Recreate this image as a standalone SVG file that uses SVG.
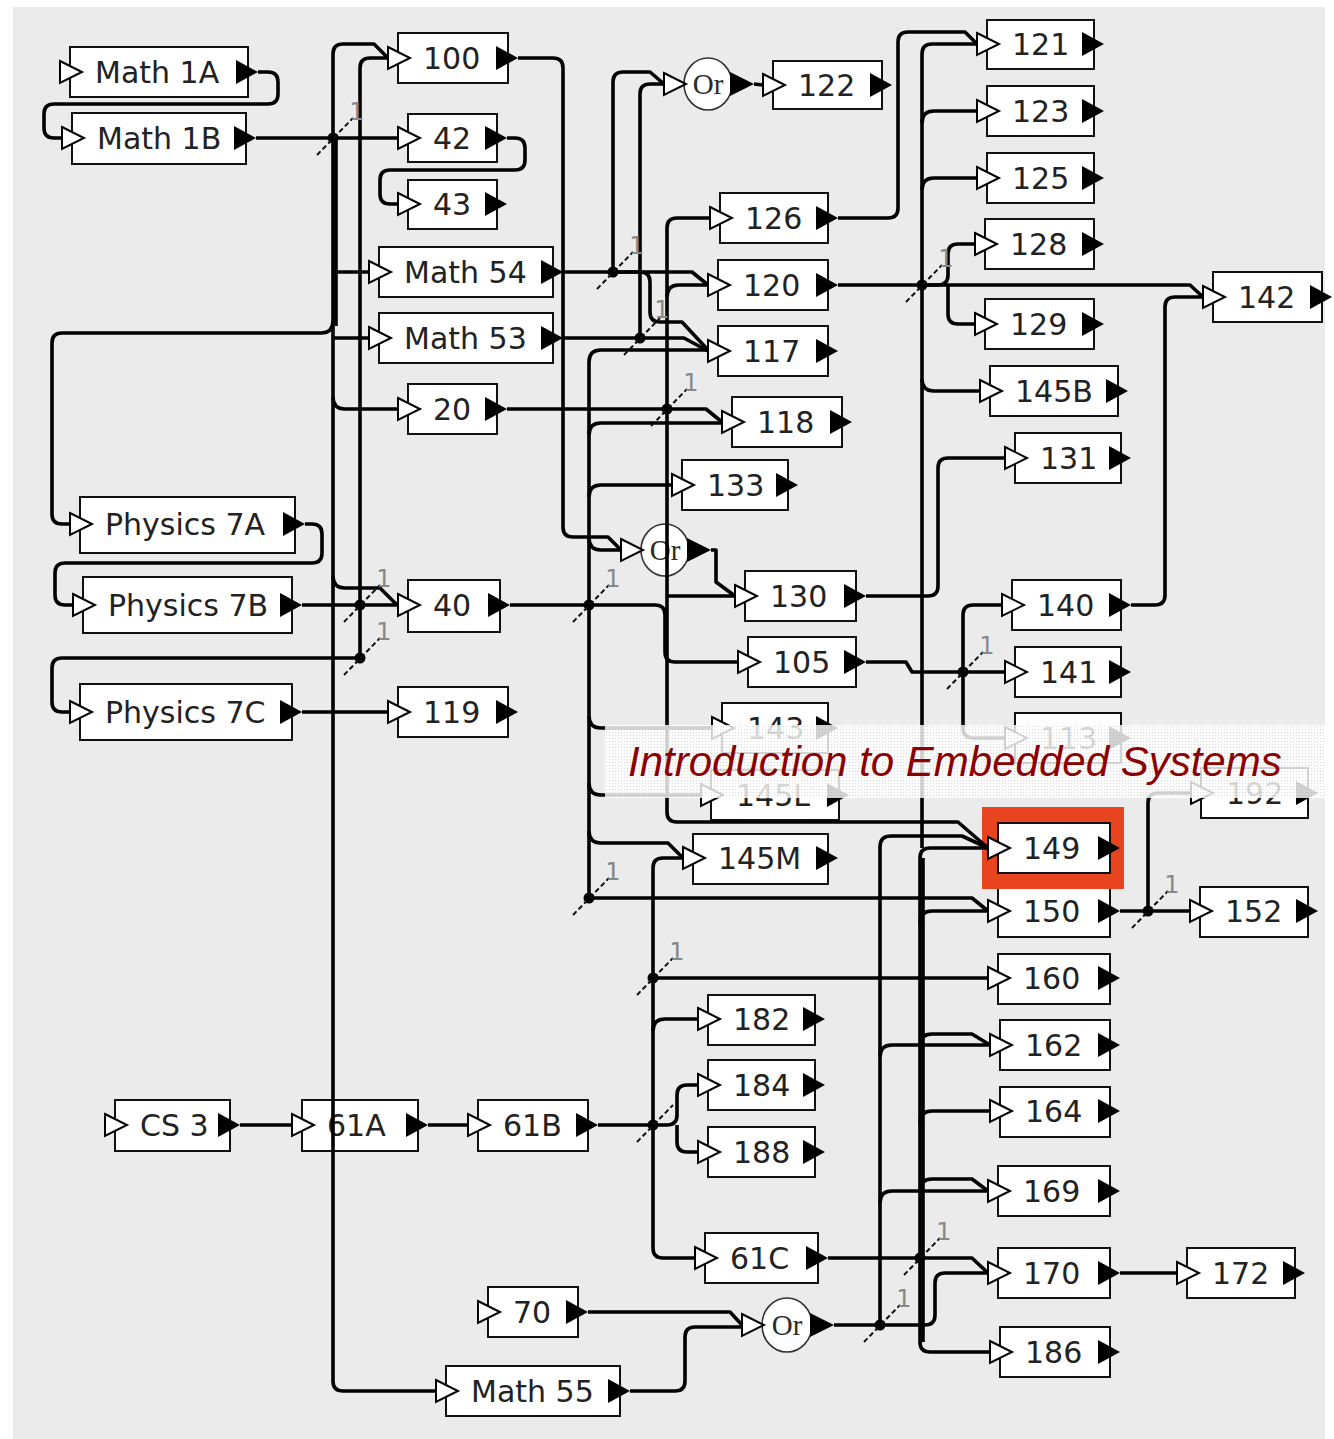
<svg xmlns="http://www.w3.org/2000/svg" width="1334" height="1439" viewBox="0 0 1334 1439">
<defs>
<style>
.box{fill:#fff;stroke:#111;stroke-width:2}
.lbl{font-family:"DejaVu Sans",sans-serif;font-size:30px;fill:#222}
.orl{font-family:"Liberation Serif",serif;font-size:29px;fill:#2b2b2b;text-anchor:middle}
.orc{fill:#fff;stroke:#333;stroke-width:1.6}
.in{fill:#fff;stroke:#000;stroke-width:2;stroke-linejoin:miter}
.out{fill:#000}
.w{fill:none;stroke:#000;stroke-width:3.6;stroke-linejoin:round;stroke-linecap:butt}
.jd{fill:#000}
.sl{stroke:#111;stroke-width:2;stroke-dasharray:5 3;fill:none}
.one{font-family:"DejaVu Sans",sans-serif;font-size:24px;fill:#888;text-anchor:middle}
</style>
<pattern id="dither" width="3" height="3" patternUnits="userSpaceOnUse"><rect x="0" y="0" width="1" height="1" fill="#999" opacity="0.35"/></pattern>
</defs>
<rect x="0" y="0" width="1334" height="1439" fill="#fff"/>
<rect x="13" y="7" width="1312" height="1432" fill="#ebebeb"/>

<g id="nodes">
<g id="n-math1a"><rect class="box" x="70" y="47" width="178" height="50"/><polygon class="in" points="60,61 82,72 60,83"/><polygon class="out" points="236,60 258,72 236,84"/><text class="lbl" x="95" y="83">Math 1A</text></g>
<g id="n-math1b"><rect class="box" x="72" y="113" width="174" height="51"/><polygon class="in" points="62,127 84,138 62,149"/><polygon class="out" points="234,126 256,138 234,150"/><text class="lbl" x="97" y="149">Math 1B</text></g>
<g id="n-100"><rect class="box" x="398" y="33" width="110" height="50"/><polygon class="in" points="388,47 410,58 388,69"/><polygon class="out" points="496,46 518,58 496,70"/><text class="lbl" x="423" y="69">100</text></g>
<g id="n-42"><rect class="box" x="408" y="114" width="89" height="48"/><polygon class="in" points="398,127 420,138 398,149"/><polygon class="out" points="485,126 507,138 485,150"/><text class="lbl" x="433" y="149">42</text></g>
<g id="n-43"><rect class="box" x="408" y="180" width="89" height="49"/><polygon class="in" points="398,193 420,204 398,215"/><polygon class="out" points="485,192 507,204 485,216"/><text class="lbl" x="433" y="215">43</text></g>
<g id="n-math54"><rect class="box" x="379" y="247" width="174" height="50"/><polygon class="in" points="369,261 391,272 369,283"/><polygon class="out" points="541,260 563,272 541,284"/><text class="lbl" x="404" y="283">Math 54</text></g>
<g id="n-math53"><rect class="box" x="379" y="313" width="174" height="50"/><polygon class="in" points="369,327 391,338 369,349"/><polygon class="out" points="541,326 563,338 541,350"/><text class="lbl" x="404" y="349">Math 53</text></g>
<g id="n-20"><rect class="box" x="408" y="384" width="89" height="50"/><polygon class="in" points="398,398 420,409 398,420"/><polygon class="out" points="485,397 507,409 485,421"/><text class="lbl" x="433" y="420">20</text></g>
<g id="n-or1"><ellipse class="orc" cx="708" cy="84" rx="24" ry="26"/><polygon class="in" points="664,73 686,84 664,95"/><polygon class="out" points="730,72 754,84 730,96"/><text class="orl" x="708" y="94">Or</text></g>
<g id="n-122"><rect class="box" x="773" y="61" width="109" height="48"/><polygon class="in" points="763,74 785,85 763,96"/><polygon class="out" points="870,73 892,85 870,97"/><text class="lbl" x="798" y="96">122</text></g>
<g id="n-121"><rect class="box" x="987" y="20" width="107" height="49"/><polygon class="in" points="977,33 999,44 977,55"/><polygon class="out" points="1082,32 1104,44 1082,56"/><text class="lbl" x="1012" y="55">121</text></g>
<g id="n-123"><rect class="box" x="987" y="86" width="107" height="50"/><polygon class="in" points="977,100 999,111 977,122"/><polygon class="out" points="1082,99 1104,111 1082,123"/><text class="lbl" x="1012" y="122">123</text></g>
<g id="n-125"><rect class="box" x="987" y="153" width="107" height="50"/><polygon class="in" points="977,167 999,178 977,189"/><polygon class="out" points="1082,166 1104,178 1082,190"/><text class="lbl" x="1012" y="189">125</text></g>
<g id="n-128"><rect class="box" x="985" y="219" width="109" height="50"/><polygon class="in" points="975,233 997,244 975,255"/><polygon class="out" points="1082,232 1104,244 1082,256"/><text class="lbl" x="1010" y="255">128</text></g>
<g id="n-129"><rect class="box" x="985" y="299" width="109" height="50"/><polygon class="in" points="975,313 997,324 975,335"/><polygon class="out" points="1082,312 1104,324 1082,336"/><text class="lbl" x="1010" y="335">129</text></g>
<g id="n-145b"><rect class="box" x="990" y="366" width="128" height="50"/><polygon class="in" points="980,380 1002,391 980,402"/><polygon class="out" points="1106,379 1128,391 1106,403"/><text class="lbl" x="1015" y="402">145B</text></g>
<g id="n-131"><rect class="box" x="1015" y="433" width="106" height="50"/><polygon class="in" points="1005,447 1027,458 1005,469"/><polygon class="out" points="1109,446 1131,458 1109,470"/><text class="lbl" x="1040" y="469">131</text></g>
<g id="n-142"><rect class="box" x="1213" y="272" width="109" height="50"/><polygon class="in" points="1203,286 1225,297 1203,308"/><polygon class="out" points="1310,285 1332,297 1310,309"/><text class="lbl" x="1238" y="308">142</text></g>
<g id="n-126"><rect class="box" x="720" y="193" width="108" height="50"/><polygon class="in" points="710,207 732,218 710,229"/><polygon class="out" points="816,206 838,218 816,230"/><text class="lbl" x="745" y="229">126</text></g>
<g id="n-120"><rect class="box" x="718" y="260" width="110" height="50"/><polygon class="in" points="708,274 730,285 708,296"/><polygon class="out" points="816,273 838,285 816,297"/><text class="lbl" x="743" y="296">120</text></g>
<g id="n-117"><rect class="box" x="718" y="326" width="110" height="50"/><polygon class="in" points="708,340 730,351 708,362"/><polygon class="out" points="816,339 838,351 816,363"/><text class="lbl" x="743" y="362">117</text></g>
<g id="n-118"><rect class="box" x="732" y="397" width="110" height="50"/><polygon class="in" points="722,411 744,422 722,433"/><polygon class="out" points="830,410 852,422 830,434"/><text class="lbl" x="757" y="433">118</text></g>
<g id="n-133"><rect class="box" x="682" y="460" width="106" height="50"/><polygon class="in" points="672,474 694,485 672,496"/><polygon class="out" points="776,473 798,485 776,497"/><text class="lbl" x="707" y="496">133</text></g>
<g id="n-or2"><ellipse class="orc" cx="665" cy="550" rx="24" ry="26"/><polygon class="in" points="621,539 643,550 621,561"/><polygon class="out" points="687,538 711,550 687,562"/><text class="orl" x="665" y="560">Or</text></g>
<g id="n-130"><rect class="box" x="745" y="571" width="111" height="50"/><polygon class="in" points="735,585 757,596 735,607"/><polygon class="out" points="844,584 866,596 844,608"/><text class="lbl" x="770" y="607">130</text></g>
<g id="n-105"><rect class="box" x="748" y="637" width="108" height="50"/><polygon class="in" points="738,651 760,662 738,673"/><polygon class="out" points="844,650 866,662 844,674"/><text class="lbl" x="773" y="673">105</text></g>
<g id="n-140"><rect class="box" x="1012" y="580" width="109" height="50"/><polygon class="in" points="1002,594 1024,605 1002,616"/><polygon class="out" points="1109,593 1131,605 1109,617"/><text class="lbl" x="1037" y="616">140</text></g>
<g id="n-141"><rect class="box" x="1015" y="647" width="106" height="50"/><polygon class="in" points="1005,661 1027,672 1005,683"/><polygon class="out" points="1109,660 1131,672 1109,684"/><text class="lbl" x="1040" y="683">141</text></g>
<g id="n-143"><rect class="box" x="722" y="703" width="106" height="50"/><polygon class="in" points="712,717 734,728 712,739"/><polygon class="out" points="816,716 838,728 816,740"/><text class="lbl" x="747" y="739">143</text></g>
<g id="n-113"><rect class="box" x="1015" y="713" width="106" height="50"/><polygon class="in" points="1005,727 1027,738 1005,749"/><polygon class="out" points="1109,726 1131,738 1109,750"/><text class="lbl" x="1040" y="749">113</text></g>
<g id="n-145l"><rect class="box" x="711" y="770" width="128" height="50"/><polygon class="in" points="701,784 723,795 701,806"/><polygon class="out" points="827,783 849,795 827,807"/><text class="lbl" x="736" y="806">145L</text></g>
<g id="n-192"><rect class="box" x="1201" y="768" width="107" height="50"/><polygon class="in" points="1191,782 1213,793 1191,804"/><polygon class="out" points="1296,781 1318,793 1296,805"/><text class="lbl" x="1226" y="804">192</text></g>
<g id="n-150"><rect class="box" x="998" y="887" width="112" height="50"/><polygon class="in" points="988,900 1010,911 988,922"/><polygon class="out" points="1098,899 1120,911 1098,923"/><text class="lbl" x="1023" y="922">150</text></g>
<g id="n-149"><rect x="982" y="807" width="142" height="82" fill="#e8441f"/><rect class="box" x="998" y="823" width="112" height="50"/><polygon class="in" points="988,837 1010,848 988,859"/><polygon class="out" points="1098,836 1120,848 1098,860"/><text class="lbl" x="1023" y="859">149</text></g>
<g id="n-152"><rect class="box" x="1200" y="887" width="108" height="50"/><polygon class="in" points="1190,900 1212,911 1190,922"/><polygon class="out" points="1296,899 1318,911 1296,923"/><text class="lbl" x="1225" y="922">152</text></g>
<g id="n-145m"><rect class="box" x="693" y="834" width="135" height="50"/><polygon class="in" points="683,847 705,858 683,869"/><polygon class="out" points="816,846 838,858 816,870"/><text class="lbl" x="718" y="869">145M</text></g>
<g id="n-160"><rect class="box" x="998" y="954" width="112" height="50"/><polygon class="in" points="988,967 1010,978 988,989"/><polygon class="out" points="1098,966 1120,978 1098,990"/><text class="lbl" x="1023" y="989">160</text></g>
<g id="n-182"><rect class="box" x="708" y="995" width="107" height="50"/><polygon class="in" points="698,1008 720,1019 698,1030"/><polygon class="out" points="803,1007 825,1019 803,1031"/><text class="lbl" x="733" y="1030">182</text></g>
<g id="n-162"><rect class="box" x="1000" y="1020" width="110" height="50"/><polygon class="in" points="990,1034 1012,1045 990,1056"/><polygon class="out" points="1098,1033 1120,1045 1098,1057"/><text class="lbl" x="1025" y="1056">162</text></g>
<g id="n-184"><rect class="box" x="708" y="1060" width="107" height="50"/><polygon class="in" points="698,1074 720,1085 698,1096"/><polygon class="out" points="803,1073 825,1085 803,1097"/><text class="lbl" x="733" y="1096">184</text></g>
<g id="n-164"><rect class="box" x="1000" y="1087" width="110" height="50"/><polygon class="in" points="990,1100 1012,1111 990,1122"/><polygon class="out" points="1098,1099 1120,1111 1098,1123"/><text class="lbl" x="1025" y="1122">164</text></g>
<g id="n-188"><rect class="box" x="708" y="1127" width="107" height="50"/><polygon class="in" points="698,1141 720,1152 698,1163"/><polygon class="out" points="803,1140 825,1152 803,1164"/><text class="lbl" x="733" y="1163">188</text></g>
<g id="n-169"><rect class="box" x="998" y="1166" width="112" height="50"/><polygon class="in" points="988,1180 1010,1191 988,1202"/><polygon class="out" points="1098,1179 1120,1191 1098,1203"/><text class="lbl" x="1023" y="1202">169</text></g>
<g id="n-61c"><rect class="box" x="705" y="1233" width="113" height="50"/><polygon class="in" points="695,1247 717,1258 695,1269"/><polygon class="out" points="806,1246 828,1258 806,1270"/><text class="lbl" x="730" y="1269">61C</text></g>
<g id="n-170"><rect class="box" x="998" y="1248" width="112" height="50"/><polygon class="in" points="988,1262 1010,1273 988,1284"/><polygon class="out" points="1098,1261 1120,1273 1098,1285"/><text class="lbl" x="1023" y="1284">170</text></g>
<g id="n-172"><rect class="box" x="1187" y="1248" width="108" height="50"/><polygon class="in" points="1177,1262 1199,1273 1177,1284"/><polygon class="out" points="1283,1261 1305,1273 1283,1285"/><text class="lbl" x="1212" y="1284">172</text></g>
<g id="n-186"><rect class="box" x="1000" y="1327" width="110" height="50"/><polygon class="in" points="990,1341 1012,1352 990,1363"/><polygon class="out" points="1098,1340 1120,1352 1098,1364"/><text class="lbl" x="1025" y="1363">186</text></g>
<g id="n-or3"><ellipse class="orc" cx="787" cy="1325" rx="25" ry="27"/><polygon class="in" points="742,1314 764,1325 742,1336"/><polygon class="out" points="810,1313 834,1325 810,1337"/><text class="orl" x="787" y="1335">Or</text></g>
<g id="n-70"><rect class="box" x="488" y="1287" width="90" height="50"/><polygon class="in" points="478,1301 500,1312 478,1323"/><polygon class="out" points="566,1300 588,1312 566,1324"/><text class="lbl" x="513" y="1323">70</text></g>
<g id="n-math55"><rect class="box" x="446" y="1366" width="174" height="50"/><polygon class="in" points="436,1380 458,1391 436,1402"/><polygon class="out" points="608,1379 630,1391 608,1403"/><text class="lbl" x="471" y="1402">Math 55</text></g>
<g id="n-cs3"><rect class="box" x="115" y="1100" width="115" height="51"/><polygon class="in" points="105,1114 127,1125 105,1136"/><polygon class="out" points="218,1113 240,1125 218,1137"/><text class="lbl" x="140" y="1136">CS 3</text></g>
<g id="n-61a"><rect class="box" x="302" y="1100" width="116" height="51"/><polygon class="in" points="292,1114 314,1125 292,1136"/><polygon class="out" points="406,1113 428,1125 406,1137"/><text class="lbl" x="327" y="1136">61A</text></g>
<g id="n-61b"><rect class="box" x="478" y="1100" width="110" height="51"/><polygon class="in" points="468,1114 490,1125 468,1136"/><polygon class="out" points="576,1113 598,1125 576,1137"/><text class="lbl" x="503" y="1136">61B</text></g>
<g id="n-phys7a"><rect class="box" x="80" y="497" width="215" height="56"/><polygon class="in" points="70,513 92,524 70,535"/><polygon class="out" points="283,512 305,524 283,536"/><text class="lbl" x="105" y="535">Physics 7A</text></g>
<g id="n-phys7b"><rect class="box" x="83" y="577" width="209" height="56"/><polygon class="in" points="73,594 95,605 73,616"/><polygon class="out" points="280,593 302,605 280,617"/><text class="lbl" x="108" y="616">Physics 7B</text></g>
<g id="n-phys7c"><rect class="box" x="80" y="684" width="212" height="56"/><polygon class="in" points="70,701 92,712 70,723"/><polygon class="out" points="280,700 302,712 280,724"/><text class="lbl" x="105" y="723">Physics 7C</text></g>
<g id="n-40"><rect class="box" x="408" y="580" width="92" height="52"/><polygon class="in" points="398,594 420,605 398,616"/><polygon class="out" points="488,593 510,605 488,617"/><text class="lbl" x="433" y="616">40</text></g>
<g id="n-119"><rect class="box" x="398" y="687" width="110" height="50"/><polygon class="in" points="388,701 410,712 388,723"/><polygon class="out" points="496,700 518,712 496,724"/><text class="lbl" x="423" y="723">119</text></g>
</g>

<g id="connectors">
<path class="w" d="M258 72 L268 72 Q278 72 278 82 L278 94 Q278 104 268 104 L54 104 Q44 104 44 114 L44 128 Q44 138 54 138 L62 138"/>
<path class="w" d="M256 138 L398 138"/>
<path class="w" d="M333 138 L333 54 Q333 44 343 44 L374 44 L388 58"/>
<path class="w" d="M333 138 L333 1381 Q333 1391 343 1391 L436 1391"/>
<path class="w" d="M336 140 L336 326"/>
<path class="w" d="M333 272 L369 272"/>
<path class="w" d="M333 338 L369 338"/>
<path class="w" d="M333 397 Q333 409 345 409 L398 409"/>
<path class="w" d="M333 321 Q333 333 321 333 L62 333 Q52 333 52 343 L52 514 Q52 524 62 524 L70 524"/>
<path class="w" d="M333 576 Q333 588 345 588 L380 588 L397 605"/>
<path class="w" d="M360 605 L360 68 Q360 58 370 58 L388 58"/>
<path class="w" d="M302 605 L398 605"/>
<path class="w" d="M360 605 L360 658 L62 658 Q52 658 52 668 L52 702 Q52 712 62 712 L70 712"/>
<path class="w" d="M305 524 L312 524 Q322 524 322 534 L322 553 Q322 563 312 563 L65 563 Q55 563 55 573 L55 595 Q55 605 65 605 L73 605"/>
<path class="w" d="M302 712 L388 712"/>
<path class="w" d="M507 138 L515 138 Q525 138 525 148 L525 160 Q525 170 515 170 L390 170 Q380 170 380 180 L380 194 Q380 204 390 204 L398 204"/>
<path class="w" d="M518 58 L553 58 Q563 58 563 68 L563 527 Q563 537 573 537 L608 537 L621 550"/>
<path class="w" d="M563 272 L692 272 L708 285"/>
<path class="w" d="M613 272 L613 82 Q613 72 623 72 L650 72 L664 84"/>
<path class="w" d="M613 272 L640 272 Q650 272 650 282 L650 312 Q650 322 660 322 L682 322 L708 350"/>
<path class="w" d="M563 338 L684 338 L708 351"/>
<path class="w" d="M640 338 L640 94 Q640 84 650 84 L664 84"/>
<path class="w" d="M754 84 L763 85"/>
<path class="w" d="M507 409 L706 409 L722 422"/>
<path class="w" d="M667 409 L667 228 Q667 218 677 218 L710 218"/>
<path class="w" d="M667 297 Q667 285 679 285 L708 285"/>
<path class="w" d="M667 409 L667 812 Q667 822 677 822 L958 822 L988 848"/>
<path class="w" d="M667 596 L735 596"/>
<path class="w" d="M711 550 L716 550 L716 582 L735 596"/>
<path class="w" d="M510 605 L655 605 Q665 605 665 615 L665 652 Q665 662 675 662 L738 662"/>
<path class="w" d="M589 362 L589 898"/>
<path class="w" d="M589 362 Q589 350 601 350 L708 350"/>
<path class="w" d="M589 435 Q589 423 601 423 L722 423"/>
<path class="w" d="M589 497 Q589 485 601 485 L672 485"/>
<path class="w" d="M589 538 Q589 550 601 550 L621 550"/>
<path class="w" d="M589 716 Q589 728 601 728 L712 728"/>
<path class="w" d="M589 783 Q589 795 601 795 L701 795"/>
<path class="w" d="M589 831 Q589 843 601 843 L668 843 L683 858"/>
<path class="w" d="M589 898 L972 898 L988 911"/>
<path class="w" d="M683 858 L663 858 Q653 858 653 868 L653 1248 Q653 1258 663 1258 L695 1258"/>
<path class="w" d="M653 978 L988 978"/>
<path class="w" d="M653 1031 Q653 1019 665 1019 L698 1019"/>
<path class="w" d="M598 1125 L667 1125 Q677 1125 677 1115 L677 1095 Q677 1085 687 1085 L698 1085"/>
<path class="w" d="M677 1125 L677 1142 Q677 1152 687 1152 L698 1152"/>
<path class="w" d="M828 1258 L972 1258 L988 1273"/>
<path class="w" d="M988 848 L930 848 Q920 848 920 858 L920 1342 Q920 1352 930 1352 L990 1352"/>
<path class="w" d="M923 858 L923 1342"/>
<path class="w" d="M920 923 Q920 911 932 911 L988 911"/>
<path class="w" d="M920 1046 Q920 1034 932 1034 L972 1034 L990 1045"/>
<path class="w" d="M920 1123 Q920 1111 932 1111 L990 1111"/>
<path class="w" d="M920 1191 Q920 1179 932 1179 L972 1179 L988 1191"/>
<path class="w" d="M834 1325 L880 1325"/>
<path class="w" d="M880 1325 L925 1325 Q935 1325 935 1315 L935 1283 Q935 1273 945 1273 L988 1273"/>
<path class="w" d="M880 1325 L880 847 Q880 836 891 836 L962 836 L988 848"/>
<path class="w" d="M880 1057 Q880 1045 892 1045 L990 1045"/>
<path class="w" d="M880 1203 Q880 1191 892 1191 L988 1191"/>
<path class="w" d="M588 1312 L730 1312 L742 1325"/>
<path class="w" d="M630 1391 L675 1391 Q685 1391 685 1381 L685 1337 Q685 1327 695 1327 L742 1327"/>
<path class="w" d="M838 285 L1190 285 L1203 297"/>
<path class="w" d="M977 44 L932 44 Q922 44 922 54 L922 848"/>
<path class="w" d="M922 123 Q922 111 934 111 L977 111"/>
<path class="w" d="M922 190 Q922 178 934 178 L977 178"/>
<path class="w" d="M922 379 Q922 391 934 391 L980 391"/>
<path class="w" d="M922 285 L938 285 Q948 285 948 275 L948 254 Q948 244 958 244 L975 244"/>
<path class="w" d="M948 285 L948 314 Q948 324 958 324 L975 324"/>
<path class="w" d="M838 218 L888 218 Q898 218 898 208 L898 42 Q898 32 908 32 L965 32 L977 44"/>
<path class="w" d="M866 596 L928 596 Q938 596 938 586 L938 468 Q938 458 948 458 L1005 458"/>
<path class="w" d="M866 662 L906 662 L912 672 L1005 672"/>
<path class="w" d="M963 672 L963 615 Q963 605 973 605 L1002 605"/>
<path class="w" d="M963 672 L963 728 Q963 738 973 738 L1005 738"/>
<path class="w" d="M1131 605 L1155 605 Q1165 605 1165 595 L1165 307 Q1165 297 1175 297 L1203 297"/>
<path class="w" d="M1120 911 L1190 911"/>
<path class="w" d="M1148 911 L1148 803 Q1148 793 1158 793 L1191 793"/>
<path class="w" d="M1120 1273 L1177 1273"/>
<path class="w" d="M240 1125 L292 1125"/>
<path class="w" d="M428 1125 L468 1125"/>
<g id="junctions">
<circle class="jd" cx="333" cy="138" r="5.5"/><path class="sl" d="M317 155 L353 118"/><text class="one" x="357" y="120">1</text>
<circle class="jd" cx="360" cy="605" r="5.5"/><path class="sl" d="M344 622 L380 585"/><text class="one" x="384" y="587">1</text>
<circle class="jd" cx="360" cy="658" r="5.5"/><path class="sl" d="M344 675 L380 638"/><text class="one" x="384" y="640">1</text>
<circle class="jd" cx="589" cy="605" r="5.5"/><path class="sl" d="M573 622 L609 585"/><text class="one" x="613" y="587">1</text>
<circle class="jd" cx="589" cy="898" r="5.5"/><path class="sl" d="M573 915 L609 878"/><text class="one" x="613" y="880">1</text>
<circle class="jd" cx="667" cy="409" r="5.5"/><path class="sl" d="M651 426 L687 389"/><text class="one" x="691" y="391">1</text>
<circle class="jd" cx="613" cy="272" r="5.5"/><path class="sl" d="M597 289 L633 252"/><text class="one" x="637" y="254">1</text>
<circle class="jd" cx="640" cy="338" r="5.5"/><path class="sl" d="M624 355 L660 318"/><text class="one" x="662" y="318">1</text>
<circle class="jd" cx="922" cy="285" r="5.5"/><path class="sl" d="M906 302 L942 265"/><text class="one" x="946" y="267">1</text>
<circle class="jd" cx="963" cy="672" r="5.5"/><path class="sl" d="M947 689 L983 652"/><text class="one" x="987" y="654">1</text>
<circle class="jd" cx="1148" cy="911" r="5.5"/><path class="sl" d="M1132 928 L1168 891"/><text class="one" x="1172" y="893">1</text>
<circle class="jd" cx="653" cy="978" r="5.5"/><path class="sl" d="M637 995 L673 958"/><text class="one" x="677" y="960">1</text>
<circle class="jd" cx="653" cy="1125" r="5.5"/><path class="sl" d="M637 1142 L673 1105"/>
<circle class="jd" cx="920" cy="1258" r="5.5"/><path class="sl" d="M904 1275 L940 1238"/><text class="one" x="944" y="1240">1</text>
<circle class="jd" cx="880" cy="1325" r="5.5"/><path class="sl" d="M864 1342 L900 1305"/><text class="one" x="904" y="1307">1</text>
</g>
</g>

<g id="title-overlay">
<rect x="605" y="725" width="720" height="73" fill="#fff" opacity="0.82"/>
<rect x="605" y="725" width="720" height="73" fill="url(#dither)"/>
<text x="628" y="776" font-family="'Liberation Sans', Arial, sans-serif" font-style="italic" font-size="42" fill="#8b0000">Introduction to Embedded Systems</text>
</g>
</svg>
